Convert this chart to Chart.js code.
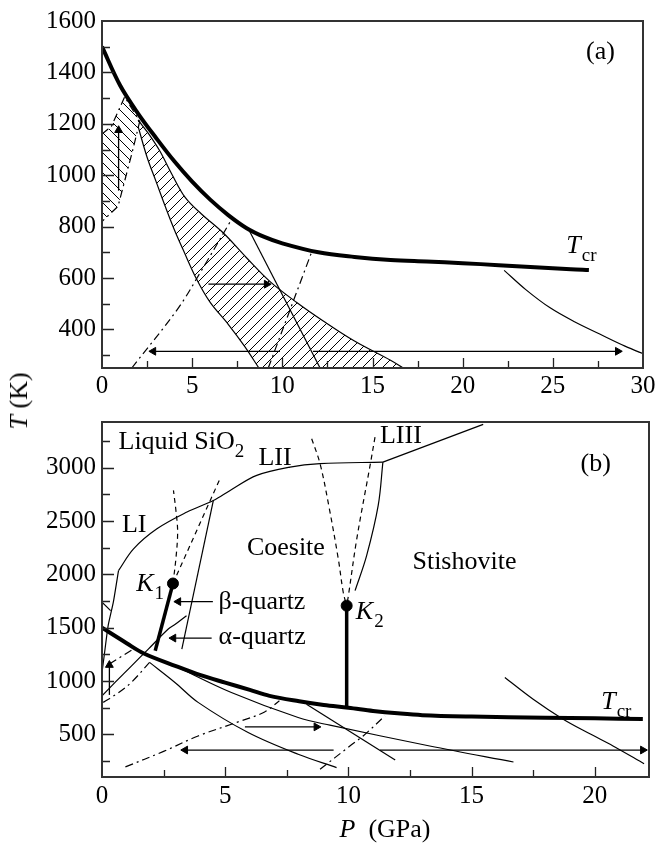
<!DOCTYPE html>
<html><head><meta charset="utf-8">
<script src="https://cdn.jsdelivr.net/npm/chart.js@4.4.1/dist/chart.umd.min.js"></script>
<style>
html,body{margin:0;padding:0;background:#fff;width:659px;height:846px;overflow:hidden;position:relative;}
canvas{position:absolute;left:0;}
#cA{top:0}
#cB{top:400px}
.ttl{position:absolute;font-family:'Liberation Serif','DejaVu Serif',serif;font-size:26px;color:#000;white-space:nowrap;}
#yt{left:19px;top:401px;transform:translate(-50%,-50%) rotate(-90deg);}
#xt{left:385px;top:829px;transform:translate(-50%,-50%);}
</style></head><body>
<canvas id="cA" width="659" height="400"></canvas>
<canvas id="cB" width="659" height="446"></canvas>
<div class="ttl" id="yt"><i>T</i> (K)</div>
<div class="ttl" id="xt"><i>P</i>&nbsp; (GPa)</div>
<script>
// ---------- Panel (a) data ----------
const aXTicks = [0,5,10,15,20,25,30];
const aYTicks = [400,600,800,1000,1200,1400,1600];
const aTcrP = [0,1,2,3,4,5,6,7,8,9,10,12,14,16,18,20,22,24,26,27];
const aTcrT = [1500,1350,1240,1145,1055,975,905,845,795,760,735,700,682,670,664,658,650,642,634,631];
const aRightP = [22.3,23.5,24.85,26.2,27.6,29,30.2];
const aRightT = [630,555,484,430,382,335,300];
const aBandLeftP = [2.0,2.5,3.0,3.5,4.0,4.5,5.25,6.0,7.0,7.9,8.7];
const aBandLeftT = [1190,1070,975,880,790,710,595,505,420,335,250];
const aBandRightP = [2.0,2.6,3.2,3.86,4.6,5.5,6.73,8.0,9.32,10.8,12.27,14.0,16.0,16.7];
const aBandRightT = [1215,1160,1095,1006,915,850,775,680,586,505,433,355,280,250];
const aSmallBandP = [0,0.52,1.26,2.09,1.72,0.89,0];
const aSmallBandT = [1160,1190,1305,1209,1102,879,820];
const aDashDot1P = [1.65,4.2,5.53,7.2];
const aDashDot1T = [250,480,631,830];
const aDashDot2P = [9.22,11.62];
const aDashDot2T = [250,700];
const aStraightP = [8.2,12.1];
const aStraightT = [780,249];
const aArrUpP = [0.92,0.92], aArrUpT = [940,1175];
const aArrMidP = [5.9,9.13], aArrMidT = [576,576];
const aArrLowLP = [9.87,2.85], aArrLowLT = [315,315];
const aArrLowRP = [11.7,28.6], aArrLowRT = [315,315];
const aLabels = [
  {parts:[{t:'(a)'}], P:26.84, T:1452},
  {parts:[{t:'T',i:1},{t:'cr',s:1}], P:25.75, T:698}
];

// ---------- Panel (b) data ----------
const bXTicks = [0,5,10,15,20];
const bYTicks = [500,1000,1500,2000,2500,3000];
const bTcrP = [0,1,1.7,3,4,5,6,6.8,8,9,10,11,12,13,15,18,20,21.95];
const bTcrT = [1500,1355,1259,1140,1055,985,917,861,810,775,750,720,697,680,667,655,650,645];
const bSteepP = [0.0,0.09,0.25,0.46,0.67];
const bSteepT = [1080,1240,1520,1740,2036];
const bMeltP = [0.67,1.28,2.23,3.45,4.52,5.2,6.28,7.63,8.85,11.4];
const bMeltT = [2036,2240,2428,2585,2694,2788,2929,3007,3039,3054];
const bLIIIP = [11.4,15.47];
const bLIIIT = [3054,3408];
const bShortP = [0,0.35];
const bShortT = [1740,1660];
const bCoesP = [4.52,3.24];
const bCoesT = [2694,1300];
const bK1LineP = [2.88,2.16];
const bK1LineT = [1915,1284];
const bK1DashLP = [2.88,3.0,3.07,3.0,2.9];
const bK1DashLT = [1915,2150,2400,2600,2788];
const bK1DashRP = [2.88,4.8];
const bK1DashRT = [1915,2904];
const bAlphaBetaP = [0,0.53,1.2,1.88,2.69,2.96,3.43];
const bAlphaBetaT = [861,987,1143,1300,1488,1530,1613];
const bDashDot1P = [0.05,0.66,1.2,1.93];
const bDashDot1T = [800,890,990,1175];
const bDashDot2P = [0.3,1.27];
const bDashDot2T = [1160,1300];
const bDashDot3P = [0.95,2.5,3.9,5.5,6.6,7.2];
const bDashDot3T = [195,340,485,615,710,815];
const bDashDot4P = [8.85,10.06,10.6,11.48];
const bDashDot4T = [172,391,485,673];
const bCurve1P = [1.93,2.96,3.9,5.93,7.96,9.52];
const bCurve1T = [1175,987,800,517,313,188];
const bCurve2P = [3.09,5.25,7.96,9.25,13.3,16.7];
const bCurve2T = [1128,893,658,586,391,241];
const bStraightP = [8.3,11.9];
const bStraightT = [783,259];
const bRightP = [16.35,17.5,18.7,19.8,20.74,22];
const bRightT = [1034,830,645,505,391,225];
const bK2LineP = [9.93,9.93];
const bK2LineT = [1707,752];
const bK2DashLP = [8.51,8.85,9.2,9.59,9.79,9.93];
const bK2DashLT = [3273,3039,2650,2146,1833,1707];
const bK2DashRP = [11.08,10.88,10.34,10.0,9.93];
const bK2DashRT = [3289,3023,2334,1801,1707];
const bK2SolidP = [11.4,11.21,10.74,10.27];
const bK2SolidT = [3054,2647,2177,1848];
const bPointsP = [2.88,9.93];
const bPointsT = [1915,1707];
const bArrBetaP = [4.5,3.1], bArrBetaT = [1745,1745];
const bArrAlphaP = [4.45,2.9], bArrAlphaT = [1403,1403];
const bArrUpP = [0.3,0.3], bArrUpT = [870,1150];
const bArrMidP = [5.8,8.7], bArrMidT = [570,570];
const bArrLowLP = [9.4,3.38], bArrLowLT = [353,353];
const bArrLowRP = [11.28,21.95], bArrLowRT = [353,353];
const bLabels = [
  {parts:[{t:'Liquid SiO'},{t:'2',s:1}], P:0.67, T:3180},
  {parts:[{t:'LII'}], P:6.35, T:3023},
  {parts:[{t:'LIII'}], P:11.28, T:3236},
  {parts:[{t:'LI'}], P:0.81, T:2397},
  {parts:[{t:'Coesite'}], P:5.88, T:2186},
  {parts:[{t:'Stishovite'}], P:12.6, T:2052},
  {parts:[{t:'(b)'}], P:19.42, T:2966},
  {parts:[{t:'K',i:1},{t:'1',s:1}], P:1.39, T:1848},
  {parts:[{t:'K',i:1},{t:'2',s:1}], P:10.3, T:1582},
  {parts:[{t:'\u03B2-quartz'}], P:4.73, T:1676},
  {parts:[{t:'\u03B1-quartz'}], P:4.73, T:1347},
  {parts:[{t:'T',i:1},{t:'cr',s:1}], P:20.26, T:736}
];

// ---------- helpers ----------
const FONT = "'Liberation Serif', 'DejaVu Serif', serif";
const zip = (P,T) => P.map((p,i)=>({x:p,y:T[i]}));
const poly = (P1,T1,P2,T2) => zip(P1.concat([...P2].reverse()), T1.concat([...T2].reverse()));
function hatch(dir){
  const s=10, c=document.createElement('canvas'); c.width=s; c.height=s;
  const g=c.getContext('2d'); g.strokeStyle='#000'; g.lineWidth=1;
  g.beginPath();
  if(dir==='/'){ g.moveTo(-1,s+1); g.lineTo(s+1,-1); g.moveTo(-1,1); g.lineTo(1,-1); g.moveTo(s-1,s+1); g.lineTo(s+1,s-1); }
  else { g.moveTo(-1,-1); g.lineTo(s+1,s+1); g.moveTo(s-1,-1); g.lineTo(s+1,1); g.moveTo(-1,s-1); g.lineTo(1,s+1); }
  g.stroke();
  return g.createPattern(c,'repeat');
}
const DD=[8,4,2,4], DA=[5,4];
const line = (data,o={}) => Object.assign({data, showLine:true, pointRadius:0, pointHoverRadius:0, borderColor:'#000', backgroundColor:'rgba(0,0,0,0)', borderWidth:1.2, tension:0, fill:false, clip:0}, o);
const curve = (data,o={}) => line(data, Object.assign({tension:0.35}, o));
function arrow(P,T){
  const dx=P[1]-P[0], dy=T[1]-T[0];
  const rot = Math.abs(dx)>Math.abs(dy) ? (dx>0?90:270) : (dy>0?0:180);
  return line(zip(P,T), {pointRadius:[0,4.5], pointStyle:'triangle', rotation:[0,rot], pointBackgroundColor:'#000', pointBorderColor:'#000', pointBorderWidth:1, clip:false, borderWidth:1.3});
}

const decor = {
  id:'decor',
  afterDatasetsDraw(chart, args, opts){
    const {ctx, chartArea:a, scales:{x,y}} = chart;
    ctx.save();
    ctx.strokeStyle='#222'; ctx.lineWidth=1.3;
    ctx.beginPath();
    x.ticks.forEach(t=>{
      if(t.value<=x.min||t.value>=x.max) return;
      const px=Math.round(x.getPixelForValue(t.value))+0.5, L=t.label?10:7;
      ctx.moveTo(px,a.bottom); ctx.lineTo(px,a.bottom-L);
    });
    y.ticks.forEach(t=>{
      if(t.value<=y.min||t.value>=y.max) return;
      const py=Math.round(y.getPixelForValue(t.value))+0.5, L=t.label?12:8;
      ctx.moveTo(a.left,py); ctx.lineTo(a.left+L,py);
    });
    ctx.stroke();
    ctx.lineWidth=2; ctx.strokeStyle='#333';
    ctx.strokeRect(a.left,a.top,a.width,a.height);
    ctx.fillStyle='#000'; ctx.textBaseline='alphabetic'; ctx.textAlign='left';
    (opts.labels||[]).forEach(l=>{
      let px=x.getPixelForValue(l.P); const py=y.getPixelForValue(l.T);
      l.parts.forEach(p=>{
        ctx.font=(p.i?'italic ':'')+(p.s?'19px ':'26px ')+FONT;
        ctx.fillText(p.t, px, py+(p.s?8:0));
        px+=ctx.measureText(p.t).width+(p.i?1:0);
      });
    });
    ctx.restore();
  }
};

function axes(o){
  const tickFont={family:FONT, size:25};
  return {
    x:{type:'linear', min:o.xmin, max:o.xmax, afterFit:s=>{s.height=o.xH;},
       grid:{display:false, drawTicks:false}, border:{display:false},
       ticks:{stepSize:o.xStep, includeBounds:false, autoSkip:false, maxRotation:0, padding:o.xPad, color:'#000', font:tickFont,
              callback:v=>o.xLab.includes(v)?String(v):''}},
    y:{type:'linear', min:o.ymin, max:o.ymax, afterFit:s=>{s.width=o.yW;},
       grid:{display:false, drawTicks:false}, border:{display:false},
       ticks:{stepSize:o.yStep, includeBounds:false, autoSkip:false, padding:6, color:'#000', font:tickFont,
              callback:v=>o.yLab.includes(v)?String(v):''}}
  };
}

function draw(){
  Chart.defaults.font.family = FONT;
  new Chart(document.getElementById('cA'), {
    type:'scatter',
    data:{datasets:[
      line(zip(aSmallBandP,aSmallBandT), {fill:'shape', backgroundColor:hatch('\\'), borderDash:DD}),
      line(poly(aBandLeftP,aBandLeftT,aBandRightP,aBandRightT), {fill:'shape', backgroundColor:hatch('/'), borderWidth:0}),
      curve(zip(aBandLeftP,aBandLeftT)),
      curve(zip(aBandRightP,aBandRightT)),
      curve(zip(aDashDot1P,aDashDot1T), {borderDash:DD}),
      line(zip(aDashDot2P,aDashDot2T), {borderDash:DD}),
      line(zip(aStraightP,aStraightT)),
      curve(zip(aRightP,aRightT)),
      curve(zip(aTcrP,aTcrT), {borderWidth:4}),
      arrow(aArrUpP,aArrUpT),
      arrow(aArrMidP,aArrMidT),
      arrow(aArrLowLP,aArrLowLT),
      arrow(aArrLowRP,aArrLowRT)
    ]},
    options:{
      responsive:false, animation:false, devicePixelRatio:1,
      layout:{padding:{top:15,right:16,left:0,bottom:0}},
      plugins:{legend:{display:false}, tooltip:{enabled:false}, decor:{labels:aLabels}},
      scales:axes({xmin:0,xmax:30,xStep:2.5,xLab:aXTicks,xH:32,xPad:3,
                   ymin:250,ymax:1600,yStep:100,yLab:aYTicks,yW:102})
    },
    plugins:[decor]
  });

  new Chart(document.getElementById('cB'), {
    type:'scatter',
    data:{datasets:[
      curve(zip(bSteepP,bSteepT), {tension:0.2}),
      curve(zip(bMeltP,bMeltT)),
      line(zip(bLIIIP,bLIIIT)),
      line(zip(bShortP,bShortT)),
      line(zip(bCoesP,bCoesT)),
      curve(zip(bK1DashLP,bK1DashLT), {borderDash:DA}),
      line(zip(bK1DashRP,bK1DashRT), {borderDash:DA}),
      curve(zip(bAlphaBetaP,bAlphaBetaT)),
      curve(zip(bDashDot1P,bDashDot1T), {borderDash:DD}),
      line(zip(bDashDot2P,bDashDot2T), {borderDash:DD}),
      curve(zip(bDashDot3P,bDashDot3T), {borderDash:DD}),
      curve(zip(bDashDot4P,bDashDot4T), {borderDash:DD}),
      curve(zip(bCurve1P,bCurve1T)),
      curve(zip(bCurve2P,bCurve2T)),
      line(zip(bStraightP,bStraightT)),
      curve(zip(bRightP,bRightT)),
      curve(zip(bK2DashLP,bK2DashLT), {borderDash:DA}),
      curve(zip(bK2DashRP,bK2DashRT), {borderDash:DA}),
      curve(zip(bK2SolidP,bK2SolidT)),
      curve(zip(bTcrP,bTcrT), {borderWidth:4}),
      line(zip(bK1LineP,bK1LineT), {borderWidth:3.5}),
      line(zip(bK2LineP,bK2LineT), {borderWidth:3.5}),
      {data:zip(bPointsP,bPointsT), showLine:false, pointRadius:5.5, pointHoverRadius:5.5, pointBackgroundColor:'#000', pointBorderColor:'#000'},
      arrow(bArrBetaP,bArrBetaT),
      arrow(bArrAlphaP,bArrAlphaT),
      arrow(bArrUpP,bArrUpT),
      arrow(bArrMidP,bArrMidT),
      arrow(bArrLowLP,bArrLowLT),
      arrow(bArrLowRP,bArrLowRT)
    ]},
    options:{
      responsive:false, animation:false, devicePixelRatio:1,
      layout:{padding:{top:22,right:10,left:0,bottom:0}},
      plugins:{legend:{display:false}, tooltip:{enabled:false}, decor:{labels:bLabels}},
      scales:axes({xmin:0,xmax:22.2,xStep:2.5,xLab:bXTicks,xH:69,xPad:4,
                   ymin:100,ymax:3430,yStep:250,yLab:bYTicks,yW:102})
    },
    plugins:[decor]
  });
}

const fontLoads = [
  "26px 'Liberation Serif'", "italic 26px 'Liberation Serif'",
  "19px 'Liberation Serif'", "italic 19px 'Liberation Serif'"
].map(f => document.fonts.load(f, 'Tcr0123456789').catch(()=>null));
Promise.all(fontLoads).then(draw, draw);
</script>
</body></html>
